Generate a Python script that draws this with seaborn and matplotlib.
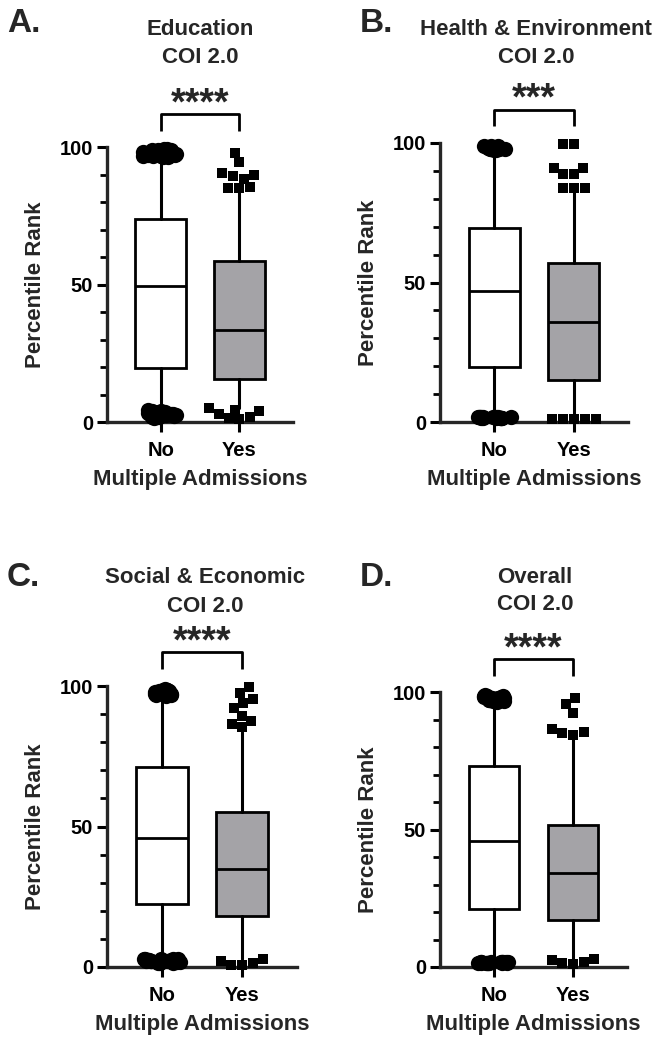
import matplotlib
matplotlib.use("Agg")
import matplotlib.pyplot as plt
import numpy as np
import seaborn as sns
from matplotlib.ticker import MultipleLocator

# ---- data ----
groups = ["No", "Yes"]
letters = ["A.", "B.", "C.", "D."]
title_1 = ["Education", "Health & Environment", "Social & Economic", "Overall"]
title_2 = ["COI 2.0", "COI 2.0", "COI 2.0", "COI 2.0"]
stars = ["****", "***", "****", "****"]

# box summaries (percentile rank), one entry per panel A-D
lo_no = [5, 2, 4, 3]
q1_no = [19.8, 19.8, 22.4, 21.1]
med_no = [49.5, 47, 45.9, 45.8]
q3_no = [73.8, 69.5, 71.2, 73.1]
hi_no = [95, 96, 95, 95]

lo_yes = [5, 1.5, 3, 3]
q1_yes = [15.6, 15, 18.1, 17.1]
med_yes = [33.5, 36, 34.9, 34.2]
q3_yes = [58.5, 56.9, 55.2, 51.6]
hi_yes = [84, 83, 83.6, 83.3]

# "No" group: dense clusters of points above / below the whiskers
top_no_a = [96.3, 96.5, 96.7, 96.9, 97.1, 97.3, 97.5, 97.7, 97.9, 98.1, 98.3, 98.5, 98.7,
            98.9, 99.1, 99.3, 96.6, 97.0, 97.4, 97.8, 98.2, 98.6, 99.0, 97.2, 98.0, 98.8]
bot_no_a = [1.6, 1.8, 2.0, 2.2, 2.4, 2.6, 2.8, 3.0, 3.2, 3.4, 3.6, 3.8, 1.9, 4.0,
            2.3, 2.7, 3.1, 3.5, 2.1, 2.5, 2.9, 3.3, 3.7, 2.0, 3.0, 2.6, 3.9, 4.2]
top_no_b = [97.5, 97.7, 97.9, 98.1, 98.3, 98.5, 98.7, 98.9, 99.0, 97.6, 98.0, 98.4, 98.8,
            98.2, 97.8, 98.6]
bot_no_b = [1.5, 1.55, 1.6, 1.65, 1.7, 1.75, 1.8, 1.5, 1.6, 1.7, 1.8, 1.55, 1.65, 1.75, 1.6, 1.7]
top_no_c = [96.5, 96.8, 97.1, 97.4, 97.7, 98.0, 98.3, 98.6, 98.8, 96.9, 97.5, 98.1, 98.7,
            97.2, 97.9, 98.4]
bot_no_c = [1.5, 1.7, 1.9, 2.1, 2.3, 2.5, 2.7, 2.9, 3.0, 1.6,
            2.0, 2.4, 2.8, 1.8, 2.2, 2.6, 1.5, 2.9, 2.0, 2.5]
top_no_d = [96.5, 96.8, 97.1, 97.4, 97.7, 98.0, 98.3, 98.6, 98.8, 96.9, 97.5, 98.1, 98.7,
            97.2, 97.9, 98.4]
bot_no_d = [1.3, 1.4, 1.5, 1.6, 1.7, 1.8, 1.9, 2.0, 1.35, 1.55, 1.75, 1.95, 1.45, 1.65, 1.85, 1.5]

# "Yes" group: individual points outside the whiskers
out_yes_a = [98, 94.5, 90.5, 90, 89.5, 88.5, 85.5, 85, 85, 5, 4.5, 4, 3, 2, 1.5, 1]
out_yes_b = [99.5, 99.5, 91, 89, 91, 89, 84, 84, 84, 1, 1, 1, 1, 1]
out_yes_c = [99.5, 97.5, 95.5, 94, 92, 89.5, 87.5, 86.5, 85.5, 0.7, 2.8, 1.4, 2, 0.7]
out_yes_d = [98, 95.5, 92.5, 86.5, 85.5, 84.5, 85, 3, 2, 1, 2.5, 1.5]

top_no = [top_no_a, top_no_b, top_no_c, top_no_d]
bot_no = [bot_no_a, bot_no_b, bot_no_c, bot_no_d]
out_yes = [out_yes_a, out_yes_b, out_yes_c, out_yes_d]

# ---- style ----
sns.set_style("ticks")
plt.rcParams["font.family"] = ["Liberation Sans", "DejaVu Sans"]
plt.rcParams["font.weight"] = "bold"
plt.rcParams["axes.labelweight"] = "bold"
np.random.seed(3)  # fixed horizontal jitter of the clusters

W, H = 665, 1050
fig = plt.figure(figsize=(W / 100, H / 100), dpi=100)

# axes frames in pixels: left, top, right, bottom
frames = [(107, 147, 293, 422), (440, 143, 628, 422),
          (107, 686, 297, 967), (440, 692, 627, 967)]
letter_xy = [(7, 32), (360, 32), (7, 586), (360, 586)]
title_xy = [(200, 35, 63), (536, 35, 63), (205, 583, 612), (535, 583, 610)]
top_jit = [0.24, 0.14, 0.14, 0.14]
bot_jit = [0.2, 0.23, 0.24, 0.23]

for i in range(4):
    l, t, r, b = frames[i]
    ax = fig.add_axes([l / W, 1 - b / H, (r - l) / W, (b - t) / H])

    sns.stripplot(x=["No"] * len(top_no[i]), y=top_no[i], order=groups,
                  jitter=top_jit[i], marker="o", size=11, color="black",
                  linewidth=0, ax=ax)
    sns.stripplot(x=["No"] * len(bot_no[i]), y=bot_no[i], order=groups,
                  jitter=bot_jit[i], marker="o", size=11, color="black",
                  linewidth=0, ax=ax)
    sns.swarmplot(x=["Yes"] * len(out_yes[i]), y=out_yes[i], order=groups,
                  marker="s", size=7.5, color="black", linewidth=0, ax=ax)
    for c in ax.collections:
        c.set_clip_on(False)
        c.set_zorder(4)

    stats = [
        dict(whislo=lo_no[i], q1=q1_no[i], med=med_no[i], q3=q3_no[i], whishi=hi_no[i], fliers=[]),
        dict(whislo=lo_yes[i], q1=q1_yes[i], med=med_yes[i], q3=q3_yes[i], whishi=hi_yes[i], fliers=[]),
    ]
    bp = ax.bxp(stats, positions=[0, 1], widths=0.64, patch_artist=True,
                showcaps=False, showfliers=False, manage_ticks=False,
                boxprops=dict(linewidth=2.0, edgecolor="black"),
                medianprops=dict(color="black", linewidth=2.0),
                whiskerprops=dict(color="black", linewidth=2.2))
    bp["boxes"][0].set_facecolor("white")
    bp["boxes"][1].set_facecolor("#a4a3a7")

    # significance bracket
    ax.plot([0, 0, 1, 1], [106, 112, 112, 106], color="black", lw=2.0,
            clip_on=False, solid_capstyle="butt")
    ax.text(0.5, 112, stars[i], ha="center", va="baseline", fontsize=27,
            fontweight="bold", clip_on=False)

    ax.set_xlim(-0.68, 1.68)
    ax.set_ylim(0, 100)
    ax.set_yticks([0, 50, 100])
    ax.yaxis.set_minor_locator(MultipleLocator(10))
    ax.set_xticks([0, 1])
    ax.set_xticklabels(groups)
    sns.despine(ax=ax)
    for s in ["left", "bottom"]:
        ax.spines[s].set_linewidth(2.4)
    ax.tick_params(axis="both", which="major", length=7, width=2.2,
                   labelsize=14.5, color="black", labelcolor="black")
    ax.tick_params(axis="y", which="major", pad=3)
    ax.tick_params(axis="x", which="major", pad=7)
    ax.tick_params(axis="y", which="minor", length=5, width=2.0, color="black")
    for lab in ax.get_xticklabels() + ax.get_yticklabels():
        lab.set_fontweight("bold")
    ax.set_xlabel("Multiple Admissions", fontsize=16, fontweight="bold", labelpad=6)
    ax.set_ylabel("Percentile Rank", fontsize=16, fontweight="bold", labelpad=10)

    lx, ly = letter_xy[i]
    fig.text(lx / W, 1 - ly / H, letters[i], fontsize=24, fontweight="bold",
             ha="left", va="baseline")
    tx, ty1, ty2 = title_xy[i]
    fig.text(tx / W, 1 - ty1 / H, title_1[i], fontsize=16, fontweight="bold",
             ha="center", va="baseline")
    fig.text(tx / W, 1 - ty2 / H, title_2[i], fontsize=16, fontweight="bold",
             ha="center", va="baseline")

fig.savefig("out.png", dpi=100, facecolor="white")
